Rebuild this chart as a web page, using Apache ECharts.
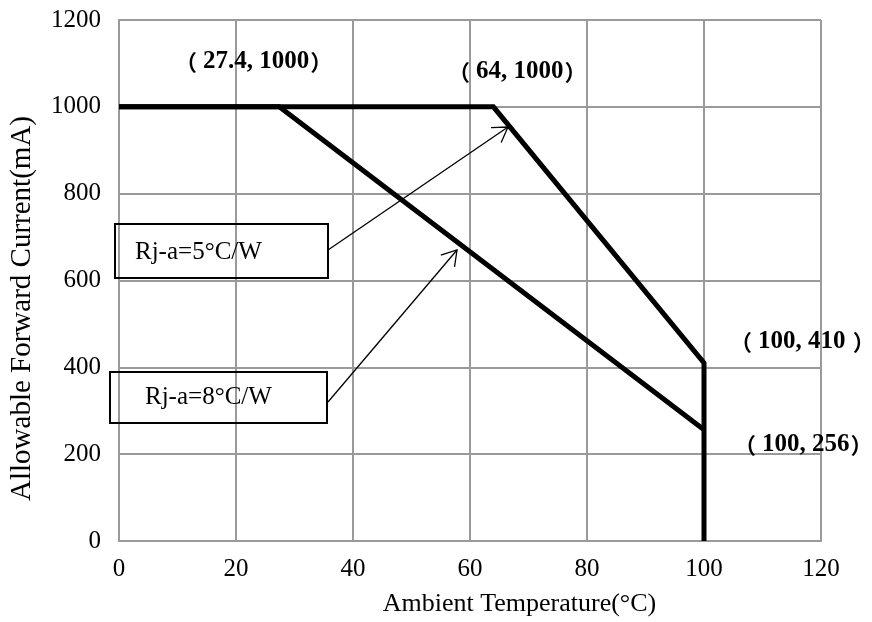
<!DOCTYPE html>
<html><head><meta charset="utf-8">
<script src="https://cdn.jsdelivr.net/npm/echarts@6/dist/echarts.min.js"></script>
<style>html,body{margin:0;padding:0;background:#fff}#c{width:872px;height:622px}</style>
</head><body><div id="c"></div>
<script>
// ---- data ----
const xTicks = [0, 20, 40, 60, 80, 100, 120];
const yTicks = [0, 200, 400, 600, 800, 1000, 1200];
const rja5X = [0, 64, 100, 100];
const rja5Y = [1000, 1000, 410, 0];
const rja8X = [0, 27.4, 100];
const rja8Y = [1000, 1000, 256];
const pointLabels = ['（27.4, 1000）', '（64, 1000）', '（100, 410 ）', '（100, 256）'];
const boxLabels = ['Rj-a=5°C/W', 'Rj-a=8°C/W'];
const xTitle = 'Ambient Temperature(°C)';
const yTitle = 'Allowable Forward Current(mA)';

const FONT = '"Liberation Serif", "Times New Roman", serif';
const CJK = '"Noto Sans CJK SC", sans-serif';
const GRIDC = '#9a9a9a';

function zip(a, b) { return a.map((v, i) => [v, b[i]]); }

function arrow(x0, y0, x1, y1) {
  const ang = Math.atan2(y0 - y1, x0 - x1);
  const L = 17, spread = 32 * Math.PI / 180;
  const a1 = [x1 + L * Math.cos(ang + spread), y1 + L * Math.sin(ang + spread)];
  const a2 = [x1 + L * Math.cos(ang - spread), y1 + L * Math.sin(ang - spread)];
  return [
    { type: 'polyline', shape: { points: [[x0, y0], [x1, y1]] }, style: { stroke: '#000', lineWidth: 1.3, fill: null }, z: 20 },
    { type: 'polyline', shape: { points: [a1, [x1, y1], a2] }, style: { stroke: '#000', lineWidth: 1.3, fill: null }, z: 20 }
  ];
}

function richLabel(s, x, y) {
  const t = s.replace(/（/g, '{l|（}').replace(/）/g, '{r|）}');
  return {
    type: 'text', x: x, y: y, z: 20,
    style: {
      text: t, fill: '#000', verticalAlign: 'middle',
      fontFamily: FONT, fontSize: 25, fontWeight: 'bold',
      rich: {
        l: { fontFamily: CJK, fontSize: 22, fontWeight: 'bold', fill: '#000', padding: [0, 6, 0, 0] },
        r: { fontFamily: CJK, fontSize: 22, fontWeight: 'bold', fill: '#000', padding: [0, 0, 0, 1] }
      }
    }
  };
}

const boxFont = '25px ' + FONT;

const chart = echarts.init(document.getElementById('c'), null, { renderer: 'canvas' });
chart.setOption({
  backgroundColor: '#fff',
  animation: false,
  grid: { left: 118, right: 51, top: 20, bottom: 75 },
  xAxis: {
    type: 'value', min: xTicks[0], max: xTicks[xTicks.length - 1], interval: 20,
    name: xTitle, nameLocation: 'middle', nameGap: 50,
    nameTextStyle: { fontFamily: FONT, fontSize: 26, color: '#000', padding: [0, 0, 0, 99] },
    axisLine: { show: true, lineStyle: { color: GRIDC, width: 2 } },
    axisTick: { show: false },
    axisLabel: { fontFamily: FONT, fontSize: 25, color: '#000', margin: 16, formatter: v => String(v) },
    splitLine: { show: true, lineStyle: { color: GRIDC, width: 2 } }
  },
  yAxis: {
    type: 'value', min: yTicks[0], max: yTicks[yTicks.length - 1], interval: 200,
    name: yTitle, nameLocation: 'middle', nameGap: 82,
    nameTextStyle: { fontFamily: FONT, fontSize: 29, color: '#000', padding: [0, 56, 0, 0] },
    axisLine: { show: true, lineStyle: { color: GRIDC, width: 2 } },
    axisTick: { show: false },
    axisLabel: { fontFamily: FONT, fontSize: 25, color: '#000', margin: 18, formatter: v => String(v) },
    splitLine: { show: true, lineStyle: { color: GRIDC, width: 2 } }
  },
  series: [
    { type: 'line', data: zip(rja5X, rja5Y), showSymbol: false, lineStyle: { color: '#000', width: 5, join: 'miter' }, z: 10 },
    { type: 'line', data: zip(rja8X, rja8Y), showSymbol: false, lineStyle: { color: '#000', width: 5, join: 'miter' }, z: 10 }
  ],
  graphic: [
    { type: 'rect', shape: { x: 115, y: 224, width: 213, height: 54 }, style: { fill: null, stroke: '#000', lineWidth: 2 }, z: 20 },
    { type: 'rect', shape: { x: 110, y: 372, width: 217, height: 51 }, style: { fill: null, stroke: '#000', lineWidth: 2 }, z: 20 },
    { type: 'text', x: 135, y: 252, style: { text: boxLabels[0], font: boxFont, fill: '#000', verticalAlign: 'middle' }, z: 20 },
    { type: 'text', x: 145, y: 397, style: { text: boxLabels[1], font: boxFont, fill: '#000', verticalAlign: 'middle' }, z: 20 },
    richLabel(pointLabels[0], 175, 62),
    richLabel(pointLabels[1], 448, 72),
    richLabel(pointLabels[2], 730, 342),
    richLabel(pointLabels[3], 734, 445),
    ...arrow(328, 250, 508, 127),
    ...arrow(328, 402, 457, 250)
  ]
});
</script></body></html>
